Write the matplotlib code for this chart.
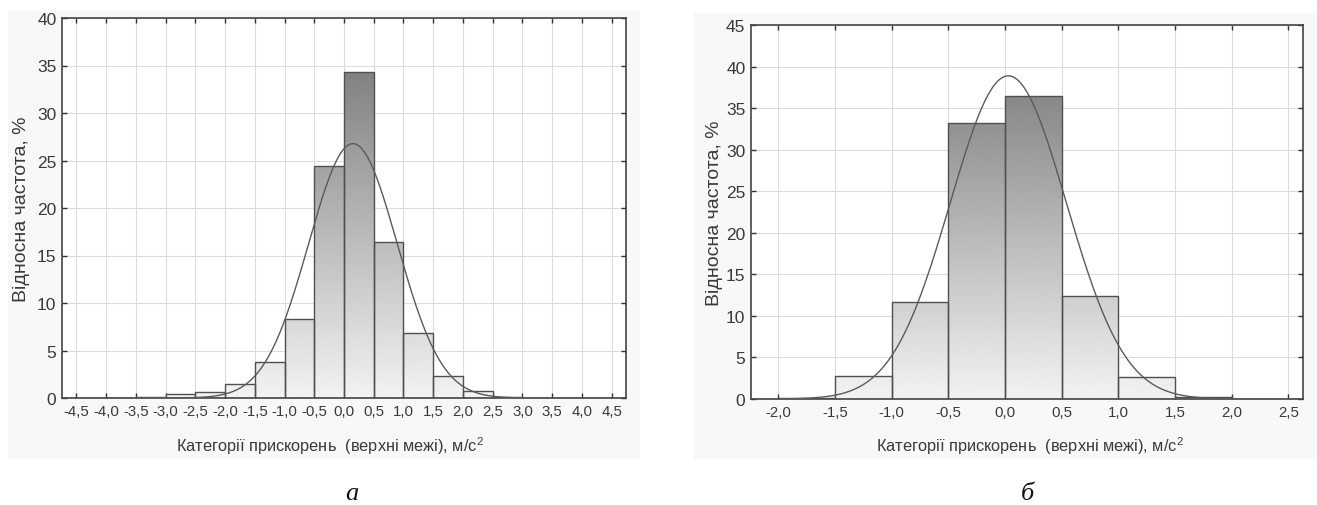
import numpy as np
import matplotlib
matplotlib.use('Agg')
import matplotlib.pyplot as plt
from matplotlib.patches import Rectangle

# ---------------- data ----------------
bin_width = 0.5

left_bin_lower = [-3.5, -3.0, -2.5, -2.0, -1.5, -1.0, -0.5, 0.0, 0.5, 1.0, 1.5, 2.0, 2.5]
left_freq = [0.1, 0.4, 0.6, 1.5, 3.8, 8.3, 24.4, 34.3, 16.4, 6.8, 2.3, 0.7, 0.1]
left_fit_mean = 0.15
left_fit_sd = 0.745
left_xticks = [-4.5, -4.0, -3.5, -3.0, -2.5, -2.0, -1.5, -1.0, -0.5, 0.0,
               0.5, 1.0, 1.5, 2.0, 2.5, 3.0, 3.5, 4.0, 4.5]
left_yticks = [0, 5, 10, 15, 20, 25, 30, 35, 40]

right_bin_lower = [-2.0, -1.5, -1.0, -0.5, 0.0, 0.5, 1.0, 1.5]
right_freq = [0.1, 2.8, 11.7, 33.2, 36.4, 12.4, 2.6, 0.2]
right_fit_mean = 0.03
right_fit_sd = 0.513
right_xticks = [-2.0, -1.5, -1.0, -0.5, 0.0, 0.5, 1.0, 1.5, 2.0, 2.5]
right_yticks = [0, 5, 10, 15, 20, 25, 30, 35, 40, 45]

ylabel_text = 'Відносна частота, %'
xlabel_text = r'Категорії прискорень  (верхні межі), м/с$^{\mathregular{2}}$'
captions = ['а', 'б']

# ---------------- style ----------------
plt.rcParams['font.family'] = ['Liberation Sans', 'DejaVu Sans']
plt.rcParams['mathtext.fontset'] = 'custom'
plt.rcParams['mathtext.rm'] = 'Liberation Sans'

W, H = 1317, 506
fig = plt.figure(figsize=(W / 100, H / 100), dpi=100)
fig.patch.set_facecolor('white')

def px_rect(x0, y0, x1, y1):
    return [x0 / W, 1 - y1 / H, (x1 - x0) / W, (y1 - y0) / H]

# faint panel backgrounds (screenshot frames)
for (x0, y0, x1, y1) in [(8, 12, 640, 460), (694, 14, 1317, 460)]:
    fig.patches.append(Rectangle((x0 / W, 1 - y1 / H), (x1 - x0) / W, (y1 - y0) / H,
                                 transform=fig.transFigure, facecolor='#f8f8f8',
                                 edgecolor='none', zorder=-10))

tick_font = ['Liberation Sans Narrow', 'Liberation Sans', 'DejaVu Sans']

def fmt(v):
    return f'{v:.1f}'.replace('.', ',')

def draw_hist(ax, lowers, freqs, mean, sd, xticks, yticks, xlim, ylim, xlabel_x):
    ax.set_facecolor('white')
    ax.set_xlim(*xlim)
    ax.set_ylim(*ylim)
    ax.set_xticks(xticks)
    ax.set_xticklabels([fmt(v) for v in xticks], family=tick_font, fontsize=10.8)
    ax.set_yticks(yticks)
    ax.set_yticklabels([str(v) for v in yticks], family=tick_font, fontsize=12.5)
    ax.grid(True, color='#dcdcdc', linewidth=0.8, zorder=0)
    ax.set_axisbelow(True)
    ax.tick_params(direction='in', length=3.5, width=1, color='#333333',
                   top=True, right=True, labelcolor='#3a3a3a', pad=4)
    for sp in ax.spines.values():
        sp.set_color('#444444')
        sp.set_linewidth(1.2)

    bars = ax.bar(lowers, freqs, width=bin_width, align='edge',
                  facecolor='none', edgecolor='#505050', linewidth=1.0, zorder=3)
    # vertical gradient (light at bottom, darker towards top of axis)
    grad = np.linspace(0, 1, 256).reshape(-1, 1)
    for b in bars:
        im = ax.imshow(grad, extent=[xlim[0], xlim[1], ylim[0], ylim[1]],
                       origin='lower', cmap='gray_r', vmin=-0.097, vmax=1.849,
                       aspect='auto', zorder=2, interpolation='bilinear')
        im.set_clip_path(b)

    xs = np.linspace(xlim[0], xlim[1], 600)
    curve = 100 * bin_width * np.exp(-0.5 * ((xs - mean) / sd) ** 2) / (sd * np.sqrt(2 * np.pi))
    ax.plot(xs, curve, color='#5a5a5a', linewidth=1.0, zorder=4)

    ax.set_ylabel(ylabel_text, fontsize=14, color='#3a3a3a', labelpad=6)
    ax.set_xlabel(xlabel_text, fontsize=11.8, color='#3a3a3a', labelpad=6)
    ax.xaxis.set_label_coords(xlabel_x, -0.095)

axL = fig.add_axes(px_rect(62, 19, 626, 399))
draw_hist(axL, left_bin_lower, left_freq, left_fit_mean, left_fit_sd,
          left_xticks, left_yticks, (-4.74, 4.74), (0, 40), 0.475)
axL.yaxis.set_label_coords(-0.056, 0.5)

axR = fig.add_axes(px_rect(751, 26, 1303, 400))
draw_hist(axR, right_bin_lower, right_freq, right_fit_mean, right_fit_sd,
          right_xticks, right_yticks, (-2.24, 2.63), (0, 45), 0.506)
axR.yaxis.set_label_coords(-0.05, 0.5)

fig.text(352 / W, 1 - 494 / H, captions[0], family=['Liberation Serif', 'DejaVu Serif'],
         style='italic', fontsize=19, ha='center', va='center', color='#111111')
fig.text(1027 / W, 1 - 494 / H, captions[1], family=['Liberation Serif', 'DejaVu Serif'],
         style='italic', fontsize=19, ha='center', va='center', color='#111111')

fig.savefig('out.png', dpi=100, facecolor='white')
